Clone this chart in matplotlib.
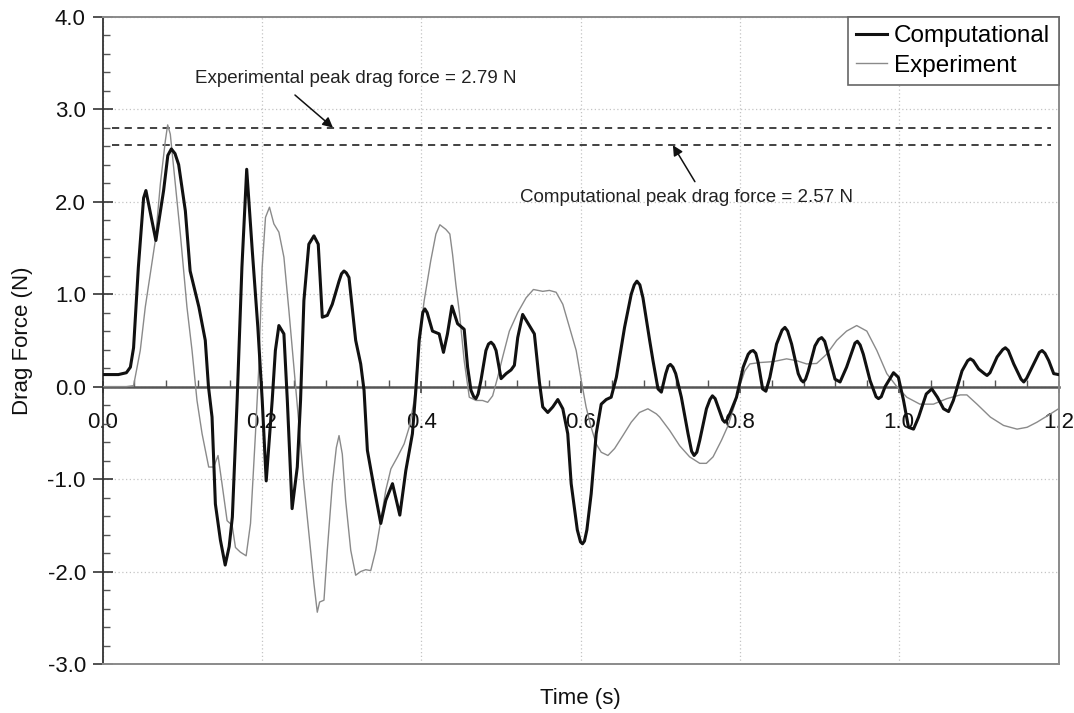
import numpy as np
import matplotlib
matplotlib.use("Agg")
import matplotlib.pyplot as plt
from matplotlib.ticker import MultipleLocator, FormatStrFormatter

plt.rcParams['font.family'] = ['Liberation Sans', 'DejaVu Sans']
plt.rcParams['axes.unicode_minus'] = False

# ---------------- data ----------------
t_comp = [0.000, 0.020, 0.030, 0.035, 0.039, 0.045, 0.0516, 0.0545, 0.067, 0.0767,
          0.082, 0.0864, 0.091, 0.0956, 0.104, 0.110, 0.121, 0.129, 0.133, 0.1375,
          0.1417, 0.148, 0.154, 0.159, 0.163, 0.169, 0.175, 0.181, 0.188, 0.195,
          0.2005, 0.2055, 0.213, 0.217, 0.2214, 0.2277, 0.232, 0.238, 0.2445, 0.2486,
          0.2528, 0.259, 0.2654, 0.2708, 0.2759, 0.2822, 0.2884, 0.2969, 0.300, 0.3031,
          0.306, 0.3094, 0.3178, 0.3241, 0.3283, 0.3325, 0.341, 0.3493, 0.3556, 0.364,
          0.3732, 0.3807, 0.389, 0.3933, 0.3975, 0.402, 0.4046, 0.4075, 0.4142, 0.4226,
          0.428, 0.433, 0.4386, 0.4457, 0.454, 0.4583, 0.4625, 0.466, 0.4688, 0.4715,
          0.475, 0.4813, 0.4845, 0.4877, 0.491, 0.494, 0.5003, 0.5066, 0.5128, 0.517,
          0.5212, 0.5274, 0.5337, 0.5421, 0.5484, 0.5526, 0.5589, 0.5652, 0.5715, 0.5778,
          0.584, 0.5883, 0.596, 0.600, 0.6025, 0.605, 0.608, 0.6134, 0.6197, 0.626,
          0.6323, 0.6385, 0.645, 0.6553, 0.6637, 0.6675, 0.6708, 0.6745, 0.6784, 0.6868,
          0.691, 0.6973, 0.7015, 0.707, 0.710, 0.7128, 0.716, 0.7195, 0.7266, 0.735,
          0.7395, 0.7426, 0.746, 0.7497, 0.7581, 0.7625, 0.7656, 0.769, 0.7727, 0.7785,
          0.7811, 0.784, 0.7874, 0.7958, 0.8042, 0.8105, 0.8135, 0.8168, 0.820, 0.823,
          0.8286, 0.8327, 0.8377, 0.8461, 0.853, 0.8566, 0.860, 0.865, 0.8733, 0.877,
          0.8796, 0.8825, 0.886, 0.8943, 0.899, 0.9027, 0.9065, 0.911, 0.9195, 0.9258,
          0.934, 0.9425, 0.9445, 0.9475, 0.951, 0.955, 0.9635, 0.971, 0.974, 0.9775,
          0.9824, 0.9929, 0.999, 1.0055, 1.0117, 1.018, 1.0244, 1.034, 1.041, 1.048,
          1.0557, 1.062, 1.068, 1.0789, 1.086, 1.0893, 1.093, 1.0998, 1.107, 1.1103,
          1.114, 1.1229, 1.130, 1.1333, 1.137, 1.1438, 1.153, 1.1564, 1.160, 1.1669,
          1.176, 1.1794, 1.183, 1.1878, 1.194, 1.200]
f_comp = [0.13, 0.13, 0.15, 0.21, 0.42, 1.29, 2.04, 2.12, 1.58, 2.12,
          2.50, 2.57, 2.52, 2.40, 1.90, 1.25, 0.86, 0.50, 0.00, -0.33,
          -1.27, -1.66, -1.93, -1.73, -1.41, -0.15, 1.29, 2.35, 1.47, 0.64,
          -0.15, -1.02, -0.15, 0.39, 0.66, 0.57, -0.15, -1.32, -0.87, -0.15,
          0.93, 1.54, 1.63, 1.54, 0.75, 0.77, 0.89, 1.14, 1.22, 1.25,
          1.23, 1.18, 0.50, 0.245, -0.04, -0.69, -1.10, -1.48, -1.23, -1.05,
          -1.39, -0.91, -0.51, -0.04, 0.50, 0.80, 0.84, 0.80, 0.60, 0.57,
          0.37, 0.57, 0.87, 0.68, 0.62, 0.21, -0.04, -0.11, -0.13, -0.08,
          0.065, 0.39, 0.46, 0.48, 0.45, 0.39, 0.086, 0.14, 0.18, 0.23,
          0.53, 0.78, 0.69, 0.57, 0.05, -0.22, -0.28, -0.22, -0.14, -0.24,
          -0.51, -1.05, -1.55, -1.68, -1.70, -1.67, -1.55, -1.16, -0.51, -0.19,
          -0.14, -0.115, 0.10, 0.64, 1.00, 1.10, 1.14, 1.10, 0.96, 0.50,
          0.28, -0.025, -0.06, 0.14, 0.22, 0.24, 0.21, 0.14, -0.115, -0.51,
          -0.70, -0.745, -0.71, -0.58, -0.24, -0.14, -0.10, -0.13, -0.22, -0.36,
          -0.385, -0.36, -0.295, -0.115, 0.21, 0.35, 0.38, 0.39, 0.36, 0.26,
          -0.025, -0.05, 0.10, 0.46, 0.61, 0.64, 0.60, 0.46, 0.14, 0.07,
          0.05, 0.08, 0.17, 0.44, 0.51, 0.53, 0.49, 0.35, 0.08, 0.05,
          0.21, 0.42, 0.47, 0.49, 0.45, 0.35, 0.065, -0.11, -0.13, -0.11,
          0.00, 0.15, 0.10, -0.15, -0.44, -0.46, -0.33, -0.08, -0.025, -0.115,
          -0.24, -0.27, -0.15, 0.17, 0.28, 0.30, 0.28, 0.19, 0.14, 0.12,
          0.15, 0.32, 0.40, 0.42, 0.39, 0.245, 0.08, 0.05, 0.09, 0.21,
          0.37, 0.39, 0.36, 0.28, 0.14, 0.13]

t_exp = [0.000, 0.030, 0.039, 0.041, 0.0474, 0.0537, 0.060, 0.0663, 0.0726, 0.0789,
         0.0818, 0.0851, 0.0914, 0.0977, 0.106, 0.1124, 0.1186, 0.125, 0.1333, 0.1396,
         0.145, 0.150, 0.1564, 0.1627, 0.1669, 0.173, 0.1803, 0.1858, 0.192, 0.1962,
         0.2004, 0.2046, 0.2096, 0.2151, 0.2214, 0.2277, 0.234, 0.2403, 0.2465, 0.2528,
         0.2591, 0.2654, 0.2696, 0.2725, 0.278, 0.2822, 0.2885, 0.2935, 0.2969, 0.301,
         0.3052, 0.3116, 0.3178, 0.3241, 0.3304, 0.3367, 0.343, 0.3493, 0.3556, 0.362,
         0.3703, 0.3786, 0.385, 0.3912, 0.3975, 0.4038, 0.412, 0.4185, 0.4235, 0.431,
         0.436, 0.4394, 0.4436, 0.448, 0.454, 0.4604, 0.4688, 0.477, 0.4835, 0.4897,
         0.496, 0.5023, 0.5107, 0.5212, 0.5317, 0.5409, 0.5526, 0.561, 0.5694, 0.5778,
         0.5862, 0.5946, 0.601, 0.607, 0.6134, 0.6197, 0.626, 0.6344, 0.6428, 0.6532,
         0.6637, 0.674, 0.6846, 0.6952, 0.6994, 0.712, 0.7245, 0.737, 0.7497, 0.758,
         0.7664, 0.777, 0.7853, 0.7937, 0.800, 0.8063, 0.8126, 0.825, 0.842, 0.8587,
         0.8713, 0.8838, 0.8964, 0.909, 0.9216, 0.934, 0.9467, 0.9594, 0.972, 0.9845,
         0.997, 1.0096, 1.026, 1.043, 1.060, 1.0767, 1.085, 1.0977, 1.1145, 1.131,
         1.148, 1.1606, 1.173, 1.190, 1.200]
f_exp = [0.00, 0.00, 0.01, 0.10, 0.39, 0.86, 1.22, 1.58, 2.19, 2.66,
         2.83, 2.73, 2.19, 1.65, 0.86, 0.39, -0.15, -0.51, -0.87, -0.87,
         -0.745, -1.05, -1.45, -1.50, -1.74, -1.79, -1.83, -1.48, -0.51, 0.21,
         1.29, 1.83, 1.94, 1.76, 1.67, 1.40, 0.82, 0.21, -0.40, -1.05,
         -1.59, -2.13, -2.44, -2.33, -2.31, -1.77, -1.05, -0.66, -0.53, -0.73,
         -1.23, -1.77, -2.04, -2.00, -1.98, -1.99, -1.77, -1.45, -1.12, -0.89,
         -0.76, -0.62, -0.44, -0.15, 0.50, 0.93, 1.36, 1.65, 1.75, 1.70,
         1.65, 1.43, 1.10, 0.80, 0.28, -0.115, -0.15, -0.15, -0.17, -0.10,
         0.10, 0.32, 0.60, 0.80, 0.96, 1.05, 1.03, 1.04, 1.02, 0.89,
         0.64, 0.39, 0.065, -0.22, -0.44, -0.62, -0.71, -0.745, -0.67, -0.53,
         -0.385, -0.28, -0.24, -0.295, -0.33, -0.475, -0.64, -0.76, -0.83, -0.83,
         -0.76, -0.58, -0.42, -0.19, 0.01, 0.17, 0.245, 0.26, 0.27, 0.30,
         0.28, 0.245, 0.25, 0.35, 0.50, 0.60, 0.66, 0.60, 0.39, 0.14,
         0.00, -0.115, -0.19, -0.19, -0.13, -0.09, -0.09, -0.19, -0.33, -0.42,
         -0.46, -0.44, -0.385, -0.295, -0.24]

exp_peak_level = 2.80
comp_peak_level = 2.61
exp_peak_text = "Experimental peak drag force = 2.79 N"
comp_peak_text = "Computational peak drag force = 2.57 N"
series_labels = ["Computational", "Experiment"]
x_ticks = [0.0, 0.2, 0.4, 0.6, 0.8, 1.0, 1.2]
y_ticks = [-3.0, -2.0, -1.0, 0.0, 1.0, 2.0, 3.0, 4.0]

# ---------------- figure ----------------
W, H = 1074, 713
fig = plt.figure(figsize=(W / 100, H / 100), dpi=100)
L, R, T, B = 102.5, 1058.5, 16.7, 664.0
ax = fig.add_axes([L / W, 1 - B / H, (R - L) / W, (B - T) / H])

ax.set_xlim(0, 1.2)
ax.set_ylim(-3, 4)

ax.set_xticks(x_ticks)
ax.set_yticks(y_ticks)
ax.xaxis.set_minor_locator(MultipleLocator(0.04))
ax.yaxis.set_minor_locator(MultipleLocator(0.2))
ax.xaxis.set_major_formatter(FormatStrFormatter('%.1f'))
ax.yaxis.set_major_formatter(FormatStrFormatter('%.1f'))
ax.grid(which='major', linestyle=(0, (1, 2)), color='#c4c4c4', linewidth=0.9, zorder=0)
ax.set_axisbelow(True)

# frame
for s in ['top', 'right']:
    ax.spines[s].set_color('#8a8a8a')
    ax.spines[s].set_linewidth(1.4)
ax.spines['left'].set_color('#333333')
ax.spines['left'].set_linewidth(1.3)
ax.spines['bottom'].set_position(('data', 0))
ax.spines['bottom'].set_color('#555555')
ax.spines['bottom'].set_linewidth(1.8)
ax.spines['bottom'].set_zorder(1.5)
ax.plot([0, 1], [0, 0], transform=ax.transAxes, color='#8a8a8a', lw=1.4,
        clip_on=False, zorder=3)

ax.tick_params(axis='x', which='major', direction='inout', length=8, width=1.2,
               color='#444444', labelsize=16, pad=14, labelcolor='#111111')
ax.tick_params(axis='x', which='minor', direction='in', length=5, width=1.0,
               color='#555555')
ax.tick_params(axis='y', which='major', direction='inout', length=14, width=1.2,
               color='#333333', labelsize=16, pad=5, labelcolor='#111111')
ax.tick_params(axis='y', which='minor', direction='in', length=5, width=1.0,
               color='#555555')

# peak reference lines
ax.plot([0.012, 1.19], [exp_peak_level, exp_peak_level], color='#333333',
        lw=1.3, linestyle=(0, (4, 3)), zorder=2)
ax.plot([0.012, 1.19], [comp_peak_level, comp_peak_level], color='#333333',
        lw=1.3, linestyle=(0, (4, 3)), zorder=2)

# series
ax.plot(t_exp, f_exp, color='#8a8a8a', lw=1.0, label=series_labels[1], zorder=3,
        solid_joinstyle='round')
ax.plot(t_comp, f_comp, color='#111111', lw=2.2, label=series_labels[0], zorder=4,
        solid_joinstyle='round')

# annotations
arrow_kw = dict(arrowstyle='-|>', color='#111111', lw=1.1,
                mutation_scale=15, shrinkA=0, shrinkB=0)
ax.text(0.116, 3.33, exp_peak_text, fontsize=13.5, color='#222222',
        va='center', ha='left', zorder=5)
ax.annotate('', xy=(0.2893, exp_peak_level), xytext=(0.2416, 3.153),
            arrowprops=arrow_kw)
ax.annotate('', xy=(0.716, comp_peak_level), xytext=(0.7436, 2.216),
            arrowprops=arrow_kw)
ax.text(0.524, 2.05, comp_peak_text, fontsize=13.5, color='#222222',
        va='center', ha='left', zorder=5)

# legend
handles, labels = ax.get_legend_handles_labels()
order = [1, 0]
leg = ax.legend([handles[i] for i in order], [labels[i] for i in order],
                loc='upper right', bbox_to_anchor=(1.0, 1.0), borderaxespad=0,
                fontsize=17.5, frameon=True, fancybox=False, framealpha=1,
                edgecolor='#666666', handlelength=1.25, handletextpad=0.3,
                labelspacing=0.3, borderpad=0.35)
leg.get_frame().set_linewidth(1.2)

# axis labels
ax.set_xlabel('Time (s)', fontsize=16, color='#111111')
ax.xaxis.set_label_coords(0.5, (B - 688) / (B - T))
ax.set_ylabel('Drag Force (N)', fontsize=16, color='#111111')
ax.yaxis.set_label_coords((33 - L) / (R - L), 0.5)

fig.savefig('out.png', dpi=100)
